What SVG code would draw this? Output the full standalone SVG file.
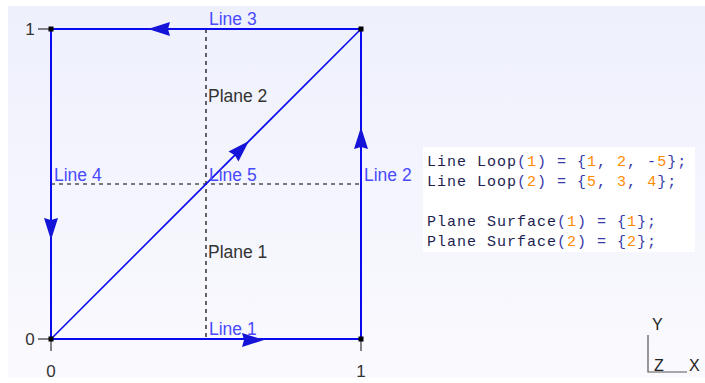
<svg xmlns="http://www.w3.org/2000/svg" xmlns:xlink="http://www.w3.org/1999/xlink" width="705" height="383" viewBox="0 0 705 383">
<defs>
<linearGradient id="bg" x1="0" y1="0" x2="0" y2="1">
<stop offset="0" stop-color="#eef0fc"/>
<stop offset="1" stop-color="#fafafe"/>
</linearGradient>
<path id="ah" d="M0,0 L-22,-7 L-20,0 L-22,7 Z"/>
<style>
.edge{stroke:#0a0af0;stroke-width:2;fill:none}
.diag{stroke:#0a0af0;stroke-width:1.6;fill:none}
.dash{stroke:#000;stroke-width:1.2;stroke-dasharray:4,4;fill:none}
.tick{stroke:#333;stroke-width:1.2}
.arrow{fill:#1414d8}
.lbl{font-family:"Liberation Sans",Arial,sans-serif;font-size:17.5px;fill:#4a4aff}
.plane{font-family:"Liberation Sans",Arial,sans-serif;font-size:17.5px;fill:#333}
.ax{font-family:"Liberation Sans",Arial,sans-serif;font-size:17px;fill:#333}
.code{font-family:"Liberation Mono","Courier New",monospace;font-size:15px;letter-spacing:1px;fill:#1e1e50}
.p{fill:#3838a8}
.n{fill:#ff8a00}
.tri{font-family:"Liberation Sans",Arial,sans-serif;font-size:16px;fill:#222}
</style>
</defs>
<rect x="0" y="0" width="705" height="383" fill="#ffffff"/>
<rect x="8" y="6" width="697" height="372" fill="url(#bg)"/>

<g id="grid">
<line class="dash" x1="206" y1="29" x2="206" y2="339"/>
<line class="dash" x1="51" y1="184" x2="361" y2="184"/>
</g>

<g id="axes">
<line class="tick" x1="38" y1="29" x2="51" y2="29"/>
<line class="tick" x1="38" y1="339" x2="51" y2="339"/>
<line class="tick" x1="51" y1="339" x2="51" y2="351"/>
<line class="tick" x1="361" y1="339" x2="361" y2="351"/>
<text class="ax" x="30" y="35" text-anchor="middle">1</text>
<text class="ax" x="30" y="345" text-anchor="middle">0</text>
<text class="ax" x="51" y="377" text-anchor="middle">0</text>
<text class="ax" x="361" y="377" text-anchor="middle">1</text>
</g>

<g id="connectors">
<line id="line1" class="edge" x1="51" y1="339" x2="361" y2="339"/>
<line id="line2" class="edge" x1="361" y1="339" x2="361" y2="29"/>
<line id="line3" class="edge" x1="361" y1="29" x2="51" y2="29"/>
<line id="line4" class="edge" x1="51" y1="29" x2="51" y2="339"/>
<line id="line5" class="diag" x1="51" y1="339" x2="361" y2="29"/>
<use class="arrow" xlink:href="#ah" transform="translate(264,340)"/>
<use class="arrow" xlink:href="#ah" transform="translate(361,127) rotate(-90)"/>
<use class="arrow" xlink:href="#ah" transform="translate(148,29) rotate(180)"/>
<use class="arrow" xlink:href="#ah" transform="translate(51,240) rotate(90)"/>
<use class="arrow" xlink:href="#ah" transform="translate(249,141) rotate(-45)"/>
</g>

<g id="points" fill="#000">
<rect x="48.5" y="26.5" width="5" height="5"/>
<rect x="358.5" y="26.5" width="5" height="5"/>
<rect x="48.5" y="336.5" width="5" height="5"/>
<rect x="358.5" y="336.5" width="5" height="5"/>
</g>

<g id="labels">
<text class="lbl" x="209" y="25">Line 3</text>
<text class="lbl" x="54" y="181">Line 4</text>
<text class="lbl" x="364" y="181">Line 2</text>
<text class="lbl" x="209" y="181">Line 5</text>
<text class="lbl" x="209" y="335">Line 1</text>
<text class="plane" x="208" y="102">Plane 2</text>
<text class="plane" x="208" y="258">Plane 1</text>
</g>

<g id="code">
<rect x="423" y="147" width="272" height="105" fill="#ffffff"/>
<text class="code" x="427" y="166" xml:space="preserve">Line Loop<tspan class="p">(</tspan><tspan class="n">1</tspan><tspan class="p">) = {</tspan><tspan class="n">1</tspan><tspan class="p">, </tspan><tspan class="n">2</tspan><tspan class="p">, -</tspan><tspan class="n">5</tspan><tspan class="p">};</tspan></text>
<text class="code" x="427" y="186" xml:space="preserve">Line Loop<tspan class="p">(</tspan><tspan class="n">2</tspan><tspan class="p">) = {</tspan><tspan class="n">5</tspan><tspan class="p">, </tspan><tspan class="n">3</tspan><tspan class="p">, </tspan><tspan class="n">4</tspan><tspan class="p">};</tspan></text>
<text class="code" x="427" y="226" xml:space="preserve">Plane Surface<tspan class="p">(</tspan><tspan class="n">1</tspan><tspan class="p">) = {</tspan><tspan class="n">1</tspan><tspan class="p">};</tspan></text>
<text class="code" x="427" y="246" xml:space="preserve">Plane Surface<tspan class="p">(</tspan><tspan class="n">2</tspan><tspan class="p">) = {</tspan><tspan class="n">2</tspan><tspan class="p">};</tspan></text>
</g>

<g id="triad">
<polyline points="648,335 648,372 687,372" fill="none" stroke="#555" stroke-width="1.2"/>
<text class="tri" x="652" y="330">Y</text>
<text class="tri" x="654" y="371">Z</text>
<text class="tri" x="689" y="371">X</text>
</g>
</svg>
